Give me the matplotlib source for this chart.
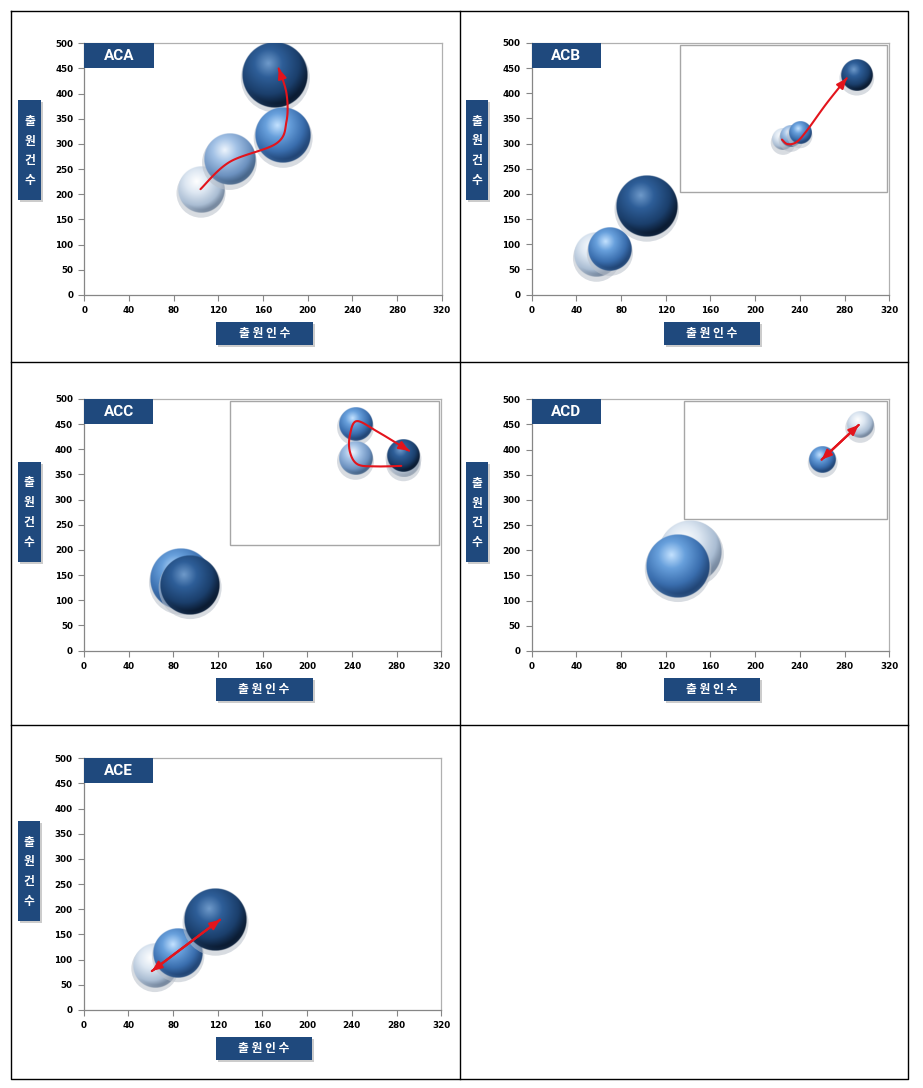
import numpy as np
import matplotlib
matplotlib.use('Agg')
import matplotlib.pyplot as plt
from matplotlib.patches import Rectangle, Ellipse
from matplotlib.colors import to_rgb

W, H, DPI = 923, 1088, 100

# ---- data: 출원인수 (x), 출원건수 (y), 버블 크기, 색 단계 (0 연함 .. 3 진함)
panel_names = ['ACA', 'ACB', 'ACC', 'ACD', 'ACE']

aca_x = [104.5, 130, 171, 178]
aca_y = [208, 269, 437, 317]
aca_s = [59, 75, 121, 87]
aca_c = [0, 1, 3, 2]

acb_x = [58, 70, 103, 225, 232, 240, 291]
acb_y = [78, 89, 175, 308, 314, 322, 436]
acb_s = [54, 52, 105, 13, 13, 14, 28]
acb_c = [0, 2, 3, 0, 1, 2, 3]

acc_x = [87, 95, 243, 243, 286, 286]
acc_y = [141, 131, 450, 382, 377, 387]
acc_s = [105, 100, 32, 32, 28, 30]
acc_c = [2, 3, 2, 1, 0, 3]

acd_x = [142.5, 131, 260.5, 294]
acd_y = [198, 169, 380, 449]
acd_s = [110, 112, 20, 20]
acd_c = [0, 2, 2, 0]

ace_x = [63.7, 84.5, 118]
ace_y = [88, 113, 179]
ace_s = [54, 68, 110]
ace_c = [0, 2, 3]

# 확대 영역 (x0, y0, x1, y1)
acb_box = (133, 203, 318, 496)
acc_box = (131, 210, 318, 496)
acd_box = (136, 262, 318, 496)

# 화살표 경로
aca_arrow = [(104, 210), (130, 264), (172, 301), (181, 345), (181, 400), (174, 450)]
acb_arrow = [(224, 308), (229, 299), (237, 303), (246, 325), (264, 380), (282, 430)]
acc_arrow = [(284, 367), (262, 366), (245, 370), (238, 395), (238, 428), (244, 456), (262, 436), (291, 397)]
acd_arrow = [(259.5, 380), (292.7, 449)]
ace_arrow = [(61, 77), (122, 179)]

xticks = list(range(0, 321, 40))
yticks = list(range(0, 501, 50))

panels = [
    (aca_x, aca_y, aca_s, aca_c, None, aca_arrow, False),
    (acb_x, acb_y, acb_s, acb_c, acb_box, acb_arrow, False),
    (acc_x, acc_y, acc_s, acc_c, acc_box, acc_arrow, False),
    (acd_x, acd_y, acd_s, acd_c, acd_box, acd_arrow, True),
    (ace_x, ace_y, ace_s, ace_c, None, ace_arrow, True),
]

# axes placement in pixels (left, top)
ax_px = [(84.3, 43.3), (531.7, 43), (84, 399), (531.7, 399.3), (83.7, 758.3)]
ylab_off = [57, 57, 63, 63, 63]
AW, AH = 357.5, 251.5

NAVY = '#1f497d'
RED = '#e3141c'
KFONT = ['Noto Sans CJK KR', 'DejaVu Sans']

STYLES = [
    [(0, '#ffffff'), (0.35, '#dde7f2'), (0.72, '#aabdd3'), (1, '#566880')],
    [(0, '#eef5fd'), (0.33, '#a3c2e6'), (0.7, '#6c91bf'), (1, '#324d6c')],
    [(0, '#c4e2ff'), (0.3, '#68a0dc'), (0.66, '#3a6eae'), (1, '#15315a')],
    [(0, '#6f9aca'), (0.3, '#2e5e98'), (0.66, '#1b3f6c'), (1, '#030a16')],
]


def sphere_img(style, n=180):
    stops = STYLES[style]
    pos = [p for p, _ in stops]
    cols = np.array([to_rgb(c) for _, c in stops])
    u = np.linspace(-1, 1, n)
    uu, vv = np.meshgrid(u, u)
    d = np.sqrt(uu**2 + vv**2)
    t = np.clip(np.sqrt((uu + 0.2)**2 + (vv + 0.35)**2) / 1.42, 0, 1)
    rgb = np.stack([np.interp(t, pos, cols[:, k]) for k in range(3)], -1)
    rim = np.clip((d - 0.86) / 0.14, 0, 1) * np.clip(vv * 1.3, 0, 1)
    rgb = rgb * (1 - 0.3 * rim[..., None]) + 0.3 * rim[..., None] * cols[1]
    alpha = np.clip((1 - d) * n / 3, 0, 1)
    return np.dstack([rgb, alpha])


def catmull(pts, n=24):
    pts = np.asarray(pts, float)
    if len(pts) == 2:
        return pts
    p = np.vstack([pts[0], pts, pts[-1]])
    out = []
    t = np.linspace(0, 1, n, endpoint=False)[:, None]
    for i in range(1, len(p) - 2):
        p0, p1, p2, p3 = p[i - 1], p[i], p[i + 1], p[i + 2]
        out.append(0.5 * (2 * p1 + (-p0 + p2) * t + (2 * p0 - 5 * p1 + 4 * p2 - p3) * t**2
                          + (-p0 + 3 * p1 - 3 * p2 + p3) * t**3))
    out.append(pts[-1:])
    return np.vstack(out)


def fx(px):
    return px / W


def fy(py):
    return 1 - py / H


fig = plt.figure(figsize=(W / DPI, H / DPI), dpi=DPI)
fig.patch.set_facecolor('white')

sx = AW / 320.0
sy = AH / 500.0

for i, (xs, ys, ss, cs, box, arrow, both) in enumerate(panels):
    left, top = ax_px[i]
    ax = fig.add_axes([fx(left), fy(top + AH), AW / W, AH / H])
    ax.set_facecolor('white')

    for k in range(len(xs)):
        r = 3.0 * np.sqrt(ss[k])
        dx, dy = r / sx, r / sy
        ax.add_patch(Ellipse((xs[k], ys[k] - 3 / sy), 2 * (r + 1.5) / sx, 2 * (r + 1.5) / sy,
                             fc='#b9c0ca', ec='none', alpha=0.55, zorder=3 + 2 * k))
        ax.imshow(sphere_img(cs[k]), extent=(xs[k] - dx, xs[k] + dx, ys[k] - dy, ys[k] + dy),
                  origin='upper', aspect='auto', interpolation='bilinear', zorder=4 + 2 * k)

    if box is not None:
        ax.add_patch(Rectangle((box[0], box[1]), box[2] - box[0], box[3] - box[1],
                               fc='none', ec='#a6a6a6', lw=1, zorder=2))

    # arrow
    pts = np.asarray(arrow, float) * [sx, sy]
    cur = catmull(pts) / [sx, sy]
    ax.plot(cur[:, 0], cur[:, 1], color=RED, lw=1.5, zorder=40, solid_capstyle='round')
    ap = dict(arrowstyle='-|>,head_length=0.6,head_width=0.25', color=RED, lw=1.5,
              mutation_scale=10, shrinkA=0, shrinkB=0)
    back = cur[-2] if len(cur) == 2 else cur[-4]
    ax.annotate('', xy=cur[-1], xytext=back, arrowprops=ap, zorder=41)
    if both:
        ax.annotate('', xy=cur[0], xytext=cur[1], arrowprops=ap, zorder=41)

    ax.set_xlim(0, 320)
    ax.set_ylim(0, 500)
    ax.set_xticks(xticks)
    ax.set_yticks(yticks)
    ax.tick_params(direction='out', length=4, width=0.8, color='#868686', labelsize=6.3, pad=4)
    for lab in ax.get_xticklabels() + ax.get_yticklabels():
        lab.set_fontfamily('DejaVu Sans')
        lab.set_fontweight('bold')
    for side in ['left', 'bottom']:
        ax.spines[side].set_color('#868686')
        ax.spines[side].set_linewidth(0.9)
    for side in ['top', 'right']:
        ax.spines[side].set_color('#b0b0b0')
        ax.spines[side].set_linewidth(0.9)

    # title box
    ax.add_patch(Rectangle((0, 450), 62, 50, fc=NAVY, ec='none', zorder=50, clip_on=False))
    ax.text(31, 475, panel_names[i], color='white', fontsize=11, fontweight='bold',
            family='Roboto', ha='center', va='center', zorder=51)

    # y label box
    bl = left - 66
    bt = top + ylab_off[i]
    fig.add_artist(Rectangle((fx(bl + 2), fy(bt + 102)), 22.5 / W, 100 / H,
                             transform=fig.transFigure, fc='#9a9a9a', ec='none', alpha=0.5))
    fig.add_artist(Rectangle((fx(bl), fy(bt + 100)), 22.5 / W, 100 / H,
                             transform=fig.transFigure, fc=NAVY, ec='none'))
    for j, ch in enumerate('출원건수'):
        fig.text(fx(bl + 11.3), fy(bt + 21 + 19.7 * j), ch, color='white', fontsize=8.5,
                 fontweight='bold', family=KFONT, ha='center', va='center')

    # x label box
    xl = left + 132
    xt = top + AH + 27
    fig.add_artist(Rectangle((fx(xl + 2), fy(xt + 25)), 96.5 / W, 23 / H,
                             transform=fig.transFigure, fc='#9a9a9a', ec='none', alpha=0.5))
    fig.add_artist(Rectangle((fx(xl), fy(xt + 23)), 96.5 / W, 23 / H,
                             transform=fig.transFigure, fc=NAVY, ec='none'))
    fig.text(fx(xl + 48), fy(xt + 11.5), '출 원 인 수', color='white', fontsize=8.5,
             fontweight='bold', family=KFONT, ha='center', va='center')

# panel borders
lk = dict(color='black', lw=1, transform=fig.transFigure)
fig.add_artist(plt.Line2D([fx(11), fx(908), fx(908), fx(11), fx(11)],
                          [fy(11), fy(11), fy(1079), fy(1079), fy(11)], **lk))
fig.add_artist(plt.Line2D([fx(460), fx(460)], [fy(11), fy(1079)], **lk))
fig.add_artist(plt.Line2D([fx(11), fx(908)], [fy(362), fy(362)], **lk))
fig.add_artist(plt.Line2D([fx(11), fx(908)], [fy(725), fy(725)], **lk))

fig.savefig('out.png', dpi=DPI)
